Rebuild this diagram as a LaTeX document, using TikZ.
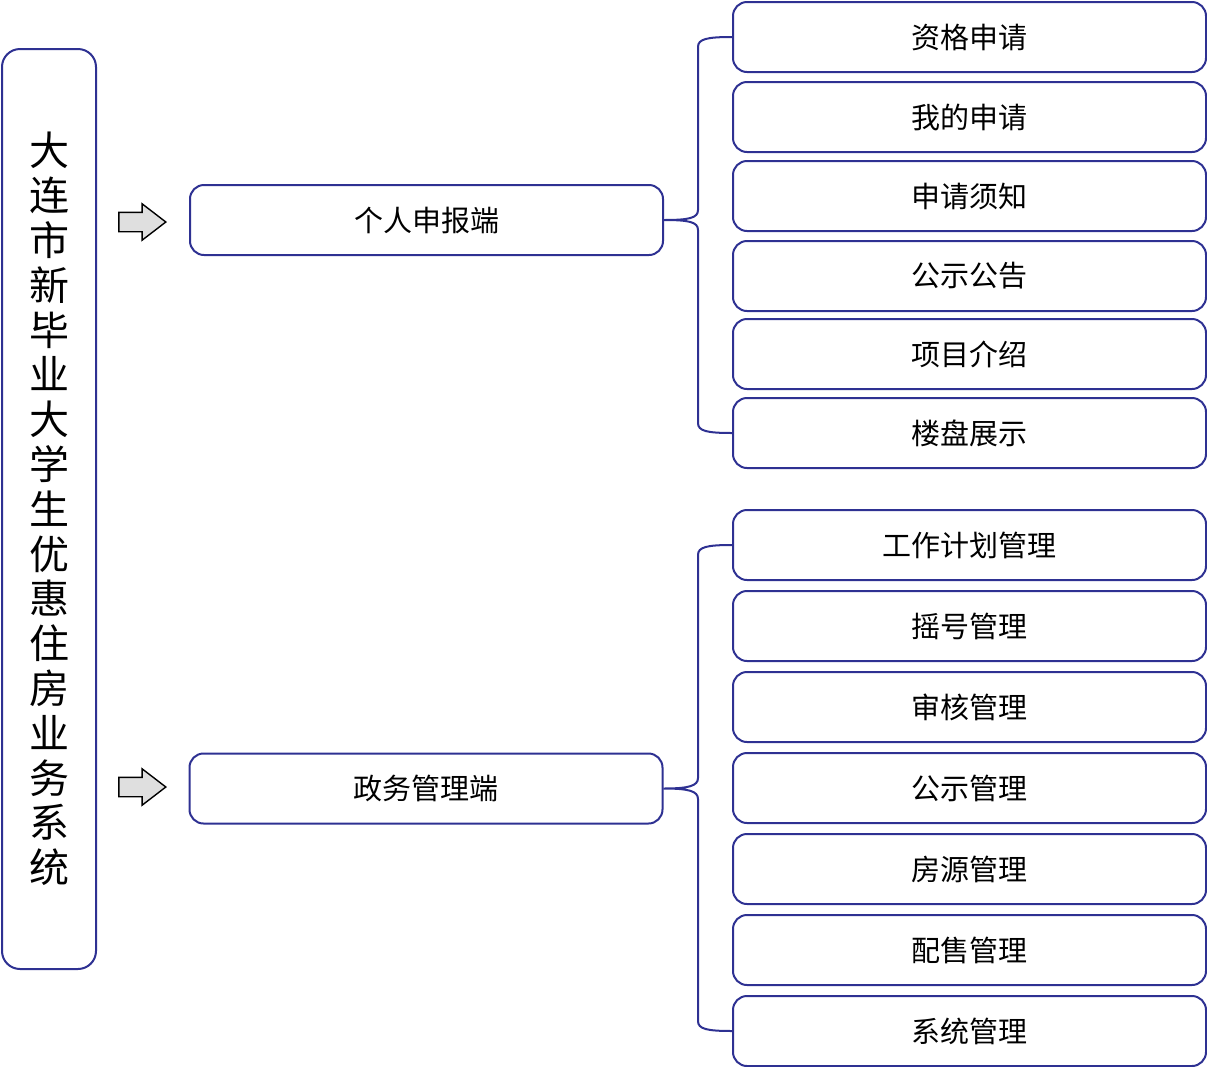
\documentclass[tikz,border=0pt]{standalone}
\usepackage{fontspec}
\setmainfont{Noto Sans CJK SC}
\usetikzlibrary{shapes.arrows}
\definecolor{boxblue}{RGB}{46,49,146}
\tikzset{
  item/.style={draw=boxblue, line width=1pt, rounded corners=7pt,
    minimum width=236.5pt, minimum height=35pt, inner sep=0pt,
    font=\fontsize{14.5}{17}\selectfont},
  brace/.style={draw=boxblue, line width=1pt},
  go/.style={single arrow, draw=black, fill=gray!25, line width=0.7pt,
    inner xsep=0pt, inner ysep=4.5pt, minimum height=23.5pt,
    single arrow head extend=4.25pt, single arrow tip angle=75}
}
\begin{document}
\begin{tikzpicture}[x=0.5pt,y=-0.5pt]
\useasboundingbox (0,0) rectangle (1207,1067);
% system
\node[item, minimum width=47pt, minimum height=460pt, rounded corners=9pt,
  align=center, font=\fontsize{20}{22.4}\selectfont] (sys) at (49,509)
  {大\\连\\市\\新\\毕\\业\\大\\学\\生\\优\\惠\\住\\房\\业\\务\\系\\统};
% arrows
\node[go] (arr1) at (136,222) {};
\node[go] (arr2) at (136,787) {};
% two ends
\node[item] (user) at (426.5,220) {个人申报端};
\node[item] (gov) at (426,788.5) {政务管理端};
% personal functions
\foreach \name/\y/\txt in {u1/37/资格申请, u2/117/我的申请, u3/196/申请须知,
    u4/276/公示公告, u5/354/项目介绍, u6/433/楼盘展示}
  \node[item] (\name) at (969.5,\y) {\txt};
% government functions
\foreach \name/\y/\txt in {g1/545/工作计划管理, g2/626/摇号管理, g3/707/审核管理,
    g4/788/公示管理, g5/869/房源管理, g6/950/配售管理, g7/1031/系统管理}
  \node[item] (\name) at (969.5,\y) {\txt};
% braces
\draw[brace] (u1.west) .. controls +(-25,0) and +(0,-8) .. (698,47) -- (698,210)
  .. controls +(0,8) and +(25,0) .. (user.east)
  .. controls +(25,0) and +(0,-8) .. (698,230) -- (698,423)
  .. controls +(0,8) and +(-25,0) .. (u6.west);
\draw[brace] (g1.west) .. controls +(-25,0) and +(0,-8) .. (698,555) -- (698,778)
  .. controls +(0,8) and +(25,0) .. (gov.east)
  .. controls +(25,0) and +(0,-8) .. (698,799) -- (698,1021)
  .. controls +(0,8) and +(-25,0) .. (g7.west);
\end{tikzpicture}
\end{document}
